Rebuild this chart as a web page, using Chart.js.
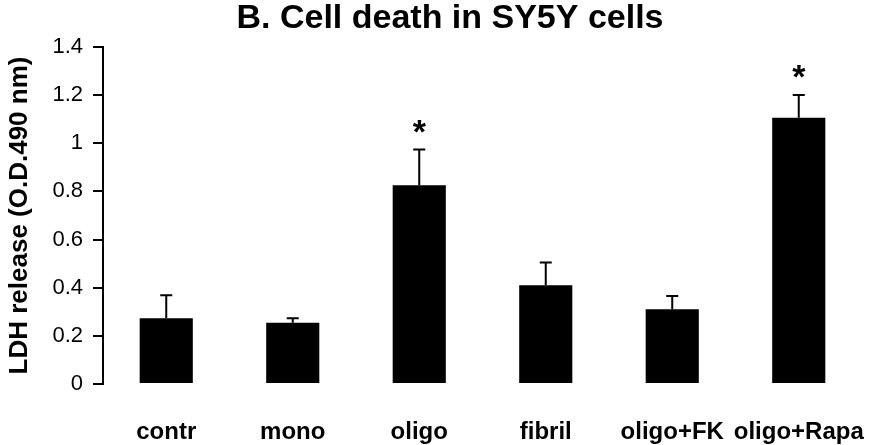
<!DOCTYPE html>
<html>
<head>
<meta charset="utf-8">
<script src="https://cdn.jsdelivr.net/npm/chart.js@4/dist/chart.umd.min.js"></script>
<style>
  html, body { margin: 0; padding: 0; background: #fff; }
  #wrap { width: 870px; height: 445px; }
</style>
</head>
<body>
<div id="wrap"><canvas id="chart" width="870" height="445"></canvas></div>
<script>
// data
const groups    = ['contr', 'mono', 'oligo', 'fibril', 'oligo+FK', 'oligo+Rapa'];
const ldh       = [0.273, 0.254, 0.826, 0.41, 0.311, 1.106];
const ldhErr    = [0.096, 0.019, 0.148, 0.095, 0.055, 0.095];
const signif    = ['', '', '*', '', '', '*'];
const yTicks    = ['0', '0.2', '0.4', '0.6', '0.8', '1', '1.2', '1.4'];
const chartTitle = 'B. Cell death in SY5Y cells';

const FONT = 'Arial, "Liberation Sans", sans-serif';

// upper error whiskers + significance stars
const errorBars = {
  id: 'errorBars',
  afterDatasetsDraw(chart) {
    const { ctx, scales: { y } } = chart;
    const meta = chart.getDatasetMeta(0);
    ctx.save();
    ctx.strokeStyle = '#000';
    ctx.lineWidth = 2;
    meta.data.forEach((bar, i) => {
      const yTop = y.getPixelForValue(ldh[i] + ldhErr[i]);
      ctx.beginPath();
      ctx.moveTo(bar.x, bar.y);
      ctx.lineTo(bar.x, yTop);
      ctx.moveTo(bar.x - 6, yTop);
      ctx.lineTo(bar.x + 6, yTop);
      ctx.stroke();
      if (signif[i]) {
        ctx.fillStyle = '#000';
        ctx.font = 'bold 34px ' + FONT;
        ctx.textAlign = 'center';
        ctx.textBaseline = 'middle';
        ctx.fillText(signif[i], bar.x, yTop - 16);
      }
    });
    ctx.restore();
  }
};

// title sits a little right of the canvas centre in the original
const titlePlugin = {
  id: 'figTitle',
  afterDraw(chart) {
    const { ctx } = chart;
    ctx.save();
    ctx.fillStyle = '#000';
    ctx.font = 'bold 34px ' + FONT;
    ctx.textAlign = 'center';
    ctx.textBaseline = 'alphabetic';
    ctx.fillText(chartTitle, 450, 28);
    ctx.restore();
  }
};

new Chart(document.getElementById('chart'), {
  type: 'bar',
  data: {
    labels: groups,
    datasets: [{
      data: ldh,
      backgroundColor: '#000',
      borderWidth: 0,
      categoryPercentage: 1,
      barPercentage: 0.42,
    }],
  },
  options: {
    responsive: false,
    animation: false,
    layout: { padding: { left: 0, right: 8, top: 47, bottom: 0 } },
    plugins: {
      legend: { display: false },
      tooltip: { enabled: false },
    },
    scales: {
      x: {
        grid: { display: false },
        border: { display: false },
        ticks: {
          color: '#000', padding: 26, maxRotation: 0, minRotation: 0, autoSkip: false,
          font: { family: FONT, size: 24, weight: 'bold' },
        },
        afterFit: s => { s.height = 61; s.paddingLeft = 0; s.paddingRight = 0; },
      },
      y: {
        min: 0,
        max: 1.4,
        grid: { drawOnChartArea: false, drawTicks: true, tickLength: 10, color: '#000', lineWidth: 2 },
        border: { display: true, color: '#000', width: 2 },
        ticks: {
          stepSize: 0.2,
          color: '#000',
          padding: 10,
          font: { family: FONT, size: 22 },
          callback: (v, i) => yTicks[i],
        },
        title: {
          display: true,
          text: 'LDH release (O.D.490 nm)',
          color: '#000',
          font: { family: FONT, size: 26, weight: 'bold' },
          padding: { top: 4, bottom: 0 },
        },
        afterFit: s => { s.width = 103; s.paddingTop = 0; s.paddingBottom = 0; },
      },
    },
  },
  plugins: [errorBars, titlePlugin],
});
</script>
</body>
</html>
